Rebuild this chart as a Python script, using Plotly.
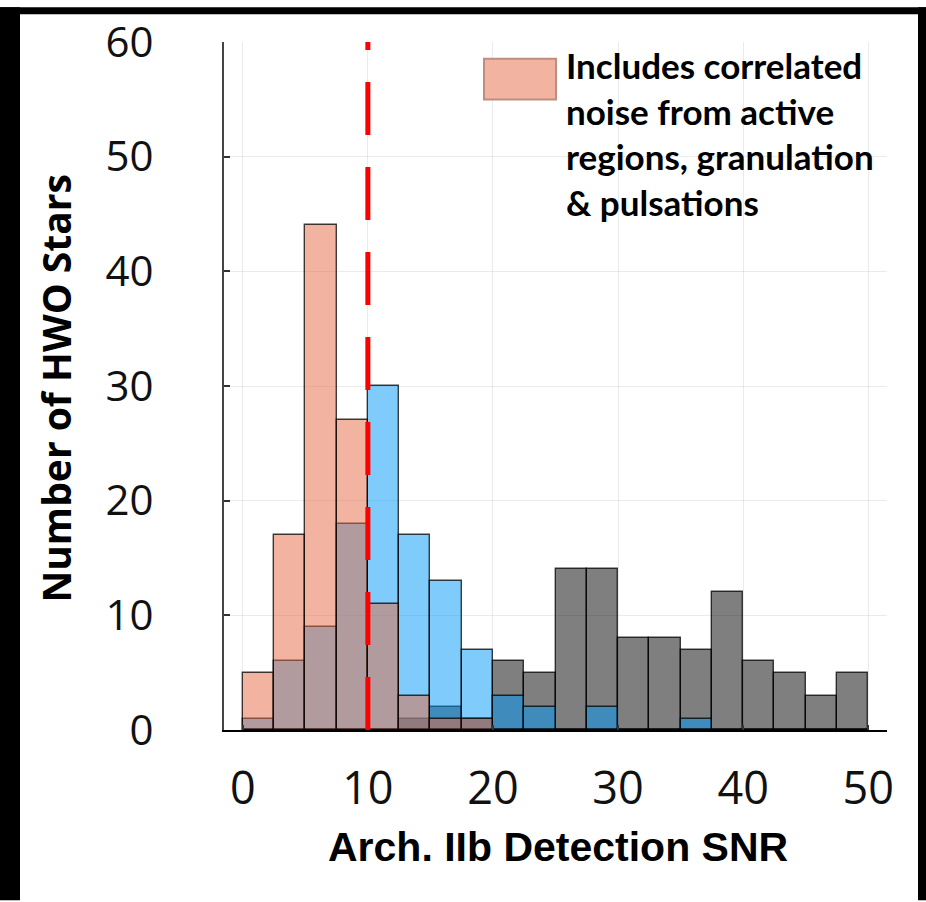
import plotly.graph_objects as go

# histogram bins (Arch. IIb detection SNR), 2.5 wide
bin_edges = [0, 2.5, 5, 7.5, 10, 12.5, 15, 17.5, 20, 22.5, 25, 27.5, 30,
             32.5, 35, 37.5, 40, 42.5, 45, 47.5, 50]

# counts per bin
grey_counts = [0, 0, 0, 0, 0, 1, 2, 1, 6, 5, 14, 14, 8, 8, 7, 12, 6, 5, 3, 5]
blue_counts = [1, 6, 9, 18, 30, 17, 13, 7, 3, 2, 0, 2, 0, 0, 1, 0, 0, 0, 0, 0]
salmon_counts = [5, 17, 44, 27, 11, 3, 1, 1, 0, 0, 0, 0, 0, 0, 0, 0, 0, 0, 0, 0]

x_ticks = [0, 10, 20, 30, 40, 50]
y_ticks = [0, 10, 20, 30, 40, 50, 60]
snr_threshold = 10
legend_text = "Includes correlated<br>noise from active<br>regions, granulation<br>& pulsations"

W, H = 926, 902
L, R, T, B = 224, 39, 35, 172
pw, ph = W - L - R, H - T - B


def px_x(px):
    return (px - L) / pw


def px_y(py):
    return (H - B - py) / ph


centers = [(a + b) / 2 for a, b in zip(bin_edges[:-1], bin_edges[1:])]
widths = [b - a for a, b in zip(bin_edges[:-1], bin_edges[1:])]

fig = go.Figure()
edge = dict(color="rgba(0,0,0,0.75)", width=1.4)
fig.add_trace(go.Bar(x=centers, y=grey_counts, width=widths,
                     marker=dict(color="rgba(0,0,0,0.5)", line=edge)))
fig.add_trace(go.Bar(x=centers, y=blue_counts, width=widths,
                     marker=dict(color="rgba(0,154,250,0.5)", line=edge)))
fig.add_trace(go.Bar(x=centers, y=salmon_counts, width=widths,
                     marker=dict(color="rgba(229,105,65,0.5)", line=edge)))

# red dashed threshold
fig.add_shape(type="line", x0=snr_threshold, x1=snr_threshold, y0=0, y1=60,
              xref="x", yref="y", line=dict(color="#ff0000", width=5, dash="53px,32px"),
              layer="above")

# legend patch + text
fig.add_shape(type="rect", xref="paper", yref="paper",
              x0=px_x(484), x1=px_x(556), y0=px_y(93), y1=px_y(52),
              fillcolor="#f2b4a0", line=dict(color="#bf8c80", width=2))
fig.add_annotation(text="<b>" + legend_text + "</b>", xref="paper", yref="paper",
                   x=px_x(564), y=px_y(35), xanchor="left", yanchor="top",
                   align="left", showarrow=False,
                   font=dict(family="Lato", size=35, color="black"))

# axis titles
fig.add_annotation(text="<b>Number of HWO Stars</b>", xref="paper", yref="paper",
                   x=px_x(55), y=px_y(385), xanchor="center", yanchor="middle",
                   textangle=-90, showarrow=False,
                   font=dict(family="Open Sans", size=39, color="black"))
fig.add_annotation(text="<b>Arch. IIb Detection SNR</b>", xref="paper", yref="paper",
                   x=px_x(558), y=px_y(848), xanchor="center", yanchor="middle",
                   showarrow=False,
                   font=dict(family="Liberation Sans", size=41, color="black"))

# black frame on the top, left and right of the picture
frame = [(0, 20, 0, H), (0, W, 0, 7), (918, W, 0, H)]
for x0, x1, y0, y1 in frame:
    fig.add_shape(type="rect", xref="paper", yref="paper",
                  x0=px_x(x0), x1=px_x(x1), y0=px_y(y1), y1=px_y(y0),
                  fillcolor="black", line=dict(width=0), layer="above")

fig.update_layout(
    width=W, height=H,
    margin=dict(l=L, r=R, t=T, b=B),
    barmode="overlay", bargap=0, showlegend=False,
    plot_bgcolor="white", paper_bgcolor="white",
)
fig.update_xaxes(range=[-1.5, 51.5], tickvals=x_ticks, showgrid=True,
                 gridcolor="rgba(0,0,0,0.08)", gridwidth=1, zeroline=False,
                 showline=True, linecolor="black", linewidth=2,
                 ticks="inside", ticklen=5, tickwidth=2, tickcolor="#333",
                 ticklabelstandoff=18,
                 tickfont=dict(family="Open Sans", size=45, color="#111"))
fig.update_yaxes(range=[0, 60], tickvals=y_ticks, showgrid=True,
                 gridcolor="rgba(0,0,0,0.08)", gridwidth=1, zeroline=False,
                 showline=True, linecolor="#444", linewidth=2,
                 ticks="inside", ticklen=6, tickwidth=2, tickcolor="#333",
                 ticklabelstandoff=60,
                 tickfont=dict(family="Open Sans", size=42, color="#111"))

fig.write_html("out.html", config={"displayModeBar": False},
               post_script="document.body.style.margin='0px';")
